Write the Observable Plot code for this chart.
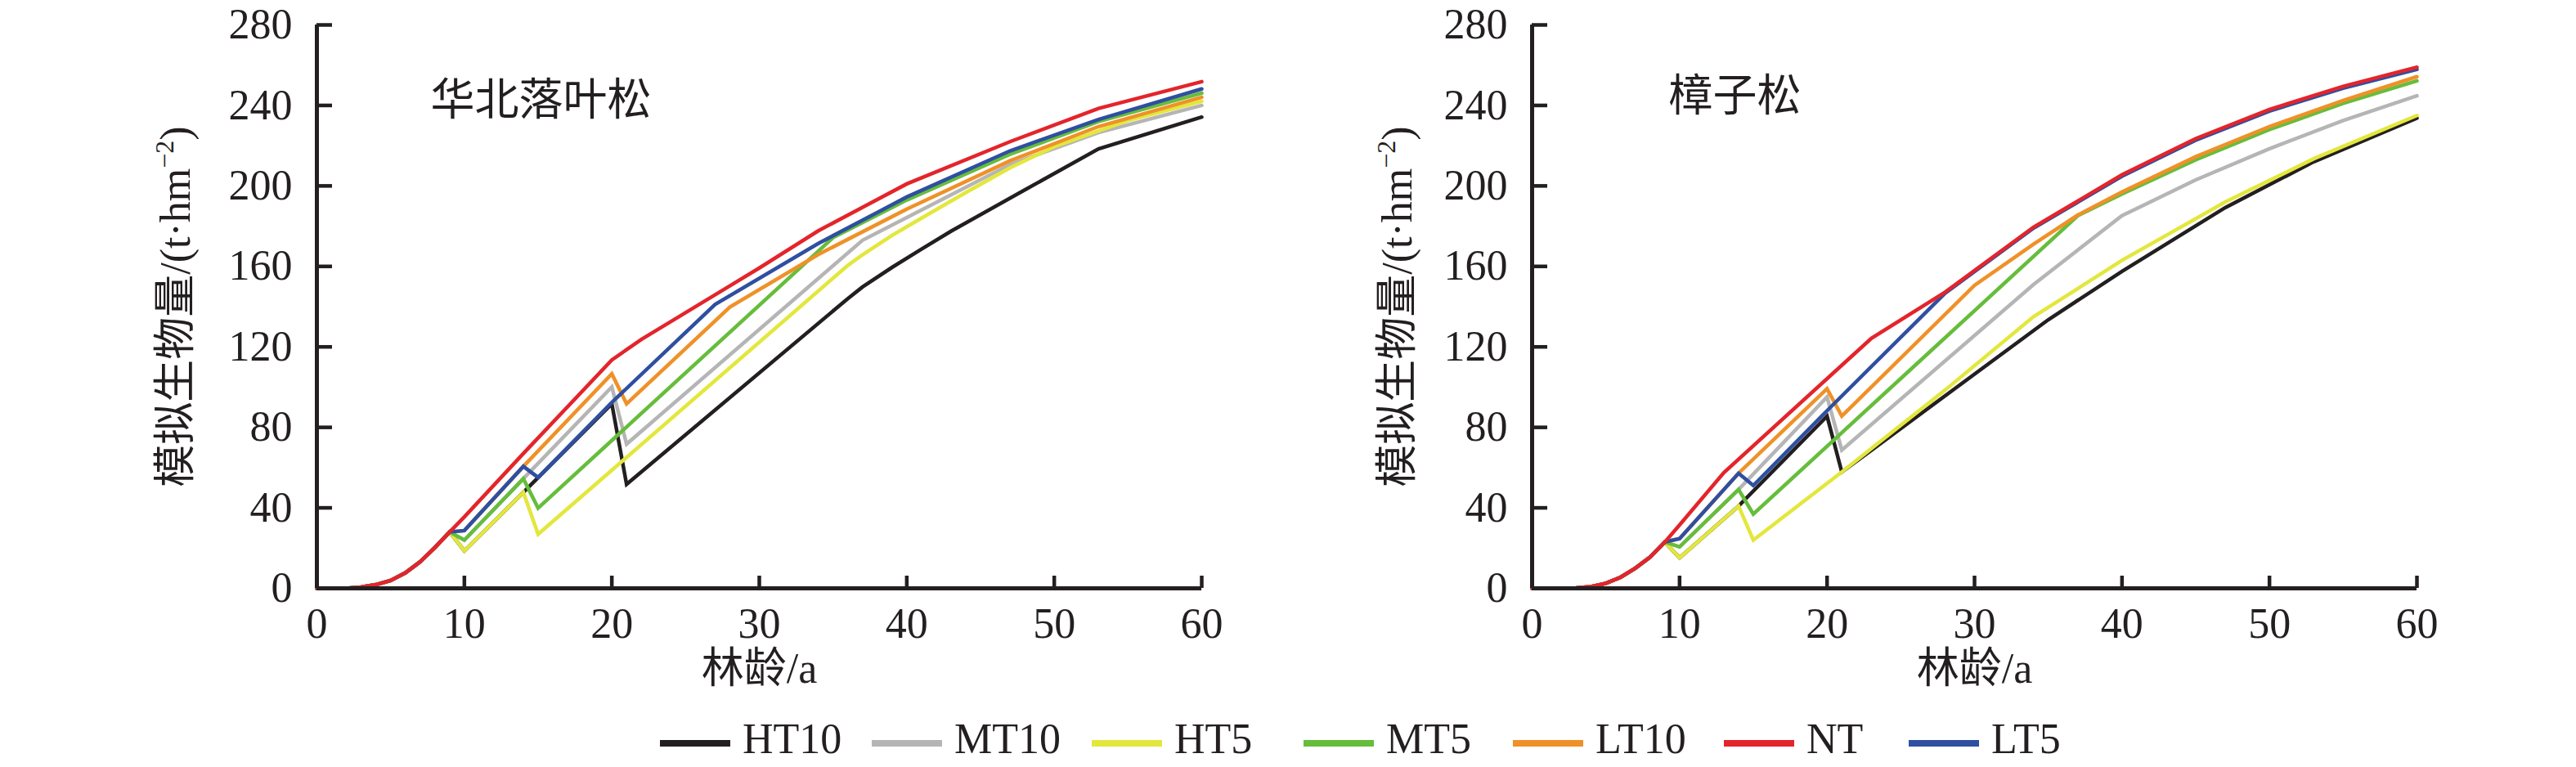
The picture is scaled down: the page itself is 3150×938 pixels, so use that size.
<!DOCTYPE html>
<html><head><meta charset="utf-8">
<script src="https://cdn.jsdelivr.net/npm/d3@7"></script>
<script src="https://cdn.jsdelivr.net/npm/@observablehq/plot@0.6"></script>
<style>
body{margin:0;background:#fff;}
#page{width:3150px;height:938px;position:relative;overflow:hidden;font-family:"Liberation Serif","Noto Sans CJK SC",serif;color:#231f20;background:#fff;}
#charts{display:flex;}
#charts svg{display:block;}
#legend{position:relative;height:78px;}
.item{position:absolute;top:18px;height:52px;display:flex;align-items:center;font-size:52px;line-height:52px;white-space:nowrap;}
.sw{width:86px;height:8px;margin-top:10px;margin-right:15px;}
</style></head><body><div id="page"><div id="charts"></div><div id="legend"></div></div>
<script>
// ---------- data ----------
const seriesNames  = ["HT10","MT10","HT5","MT5","LT10","NT","LT5"];
const seriesColors = ["#231f20","#b5b5b6","#e3e73c","#66bd3c","#ef9128","#e3252b","#2f4fa0"];
const drawOrder    = ["HT10","MT10","HT5","MT5","LT10","LT5","NT"];
const speciesNames = ["华北落叶松","樟子松"];
const xTicks = [0,10,20,30,40,50,60];
const yTicks = [0,40,80,120,160,200,240,280];
const xLabel = "林龄/a";
const yLabelParts = ["模拟生物量/(t·hm", "−2", ")"];

// 华北落叶松 (age, biomass)
const larchEarly = [[0,0],[1,0],[2,0],[3,0.6],[4,1.8],[5,3.9],[6,7.7],[7,13.2],[8,20.3],[9,28]];
const larchNT   = [[10,35.5],[14,67],[20,113.5],[22,123.7],[25,137],[28,150.3],[30,159.2],[34,177.7],[40,201],[47,222],[53,238.5],[60,251.8]];
const larchLT5  = [[10,28.7],[14,60.6],[15,55.1],[20,92.4],[27,141.1],[34,171.4],[40,194.5],[47,217.4],[53,233],[60,248.2]];
const larchLT10 = [[10,28.7],[14,60.6],[20,106.6],[21,91.7],[28,139.8],[34,165.9],[40,188.5],[47,212.5],[53,229.5],[60,244.1]];
const larchMT5  = [[10,24],[14,54.5],[15,39.9],[35,174.3],[40,193],[47,215.7],[53,232],[60,246.1]];
const larchMT10 = [[10,24],[14,54.5],[20,100.1],[21,71.7],[37,173],[47,210.6],[53,226.5],[60,240]];
const larchHT5  = [[10,18.6],[14,47.7],[15,26.9],[36,160.5],[37,165.8],[39,175.4],[41,184],[44,196.7],[47,209],[50,219.5],[55,232.5],[60,242.1]];
const larchHT10 = [[10,18.6],[14,47.7],[20,91.7],[21,51.7],[36,144],[37,149.8],[39,159.5],[41,168.6],[43,177.5],[48,198],[53,218.4],[60,234.2]];

// 樟子松 (age, biomass)
const pineEarly = [[0,0],[1,0],[2,0],[3,0.2],[4,0.8],[5,2.5],[6,5.5],[7,10],[8,15.5],[9,23]];
const pineNT   = [[10,31.5],[13,57.5],[23,124.2],[28,147.2],[34,179.5],[40,205.5],[45,223.5],[50,238],[55,249.5],[60,259]];
const pineLT5  = [[10,24.7],[14,57.2],[15,51.1],[20,88.3],[28,146.6],[34,179],[40,204.8],[45,222.7],[50,237.2],[55,248.6],[60,257.9]];
const pineLT10 = [[10,24.7],[14,57.2],[20,99.2],[21,85.6],[30,150.6],[34,171],[37,185.5],[40,197],[45,214.5],[50,229.5],[55,242.5],[60,254.3]];
const pineMT5  = [[10,20.6],[14,49.1],[15,36.9],[37,185.2],[40,196],[45,213],[50,228],[55,241],[60,252.2]];
const pineMT10 = [[10,20.6],[14,49.1],[20,95.1],[21,68.7],[34,151],[40,185.2],[45,203],[50,218.5],[55,232.5],[60,244.8]];
const pineHT5  = [[10,15.2],[14,40.9],[15,24],[21,57.8],[28,98.5],[34,135],[40,163],[47,192],[53,213.5],[60,235]];
const pineHT10 = [[10,15.2],[14,40.9],[20,85.6],[21,57.8],[35,133.5],[40,157.5],[47,189.2],[53,212],[60,233.7]];

// ---------- build ----------
const ink = "#231f20";
const fontFamily = '"Liberation Serif","Noto Sans CJK SC",serif';

function buildRows(early, bySeries) {
  const rows = [];
  for (const name of drawOrder) {
    for (const [age, biomass] of early.concat(bySeries[name])) rows.push({series: name, age, biomass});
  }
  return rows;
}

const larchRows = buildRows(larchEarly, {HT10: larchHT10, MT10: larchMT10, HT5: larchHT5, MT5: larchMT5, LT10: larchLT10, NT: larchNT, LT5: larchLT5});
const pineRows  = buildRows(pineEarly,  {HT10: pineHT10, MT10: pineMT10, HT5: pineHT5, MT5: pineMT5, LT10: pineLT10, NT: pineNT, LT5: pineLT5});

function chart(species, rows, layout) {
  const svg = Plot.plot({
    width: 1575, height: 860,
    marginLeft: layout.ml, marginRight: layout.mr, marginTop: 30, marginBottom: 141,
    x: {domain: [0, 60]},
    y: {domain: [0, 280]},
    color: {domain: seriesNames, range: seriesColors},
    style: {fontFamily, color: ink, background: "white", overflow: "visible"},
    marks: [
      Plot.line(rows, {x: "age", y: "biomass", z: "series", stroke: "series", strokeWidth: 4.5, strokeLinejoin: "miter", strokeMiterlimit: 10}),
      Plot.ruleY([0], {stroke: ink, strokeWidth: 5}),
      Plot.ruleX([0], {stroke: ink, strokeWidth: 5}),
      Plot.axisX({ticks: xTicks, tickSize: -15, tickPadding: 39, fontSize: 52, strokeWidth: 4.5, label: null, fill: ink}),
      Plot.axisY({ticks: yTicks, tickSize: -19, tickPadding: 49, fontSize: 52, strokeWidth: 4.5, label: null, fill: ink}),
      Plot.text([xLabel], {text: d => d, frameAnchor: "bottom", dy: 99, fontSize: 52, lineAnchor: "middle", fill: ink}),
      Plot.text([species], {text: d => d, frameAnchor: "top-left", dx: layout.nameDx, dy: layout.nameDy, textAnchor: "start", lineAnchor: "middle", fontSize: 54, fill: ink})
    ]
  });
  // rotated y-axis label with superscript
  const t = d3.select(svg).append("text")
    .attr("transform", `translate(${layout.labelX},375) rotate(-90)`)
    .attr("text-anchor", "middle")
    .attr("dy", "0.35em")
    .attr("font-size", 52)
    .attr("fill", ink)
    .attr("font-family", fontFamily);
  t.append("tspan").text(yLabelParts[0]);
  t.append("tspan").attr("font-size", 32).attr("dy", -20).text(yLabelParts[1]);
  t.append("tspan").attr("dy", 20).text(yLabelParts[2]);
  return svg;
}

const charts = document.getElementById("charts");
charts.appendChild(chart(speciesNames[0], larchRows, {ml: 387, mr: 106, nameDx: 139, nameDy: 93, labelX: 214}));
charts.appendChild(chart(speciesNames[1], pineRows,  {ml: 298, mr: 195, nameDx: 167, nameDy: 88, labelX: 133}));

// ---------- legend ----------
const legendLeft = [807, 1066, 1335, 1594, 1850, 2108, 2334];
const legend = document.getElementById("legend");
seriesNames.forEach((name, i) => {
  const item = document.createElement("div");
  item.className = "item";
  item.style.left = legendLeft[i] + "px";
  const sw = document.createElement("div");
  sw.className = "sw";
  sw.style.background = seriesColors[i];
  const label = document.createElement("span");
  label.textContent = name;
  item.appendChild(sw);
  item.appendChild(label);
  legend.appendChild(item);
});
</script></body></html>
